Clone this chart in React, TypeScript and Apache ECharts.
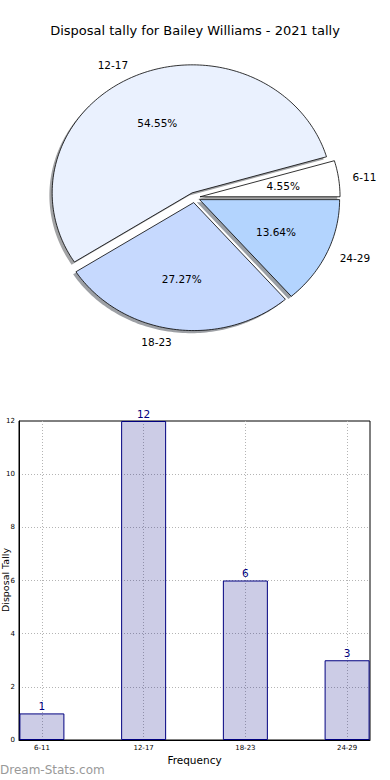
import React, { useEffect, useRef } from 'react';
import * as echarts from 'echarts';

const categories = ['6-11', '12-17', '18-23', '24-29'];
const tallies = [1, 12, 6, 3];
const titleText = 'Disposal tally for Bailey Williams - 2021 tally';
const xAxisTitle = 'Frequency';
const yAxisTitle = 'Disposal Tally';
const watermark = 'Dream-Stats.com';
const pieColors = ['#ffffff', '#eaf1fe', '#c6d9fe', '#b3d4fe'];

const FONT = '"DejaVu Sans", Verdana, sans-serif';

function shade(hex: string) {
  const r = parseInt(hex.slice(1, 3), 16);
  const g = parseInt(hex.slice(3, 5), 16);
  const b = parseInt(hex.slice(5, 7), 16);
  return `rgba(${Math.round(r * 0.3)},${Math.round(g * 0.3)},${Math.round(b * 0.3)},0.5)`;
}

export default function App() {
  const ref = useRef<HTMLDivElement>(null);
  useEffect(() => {
    document.body.style.margin = '0';
    const chart = echarts.init(ref.current!, null, { renderer: 'svg' });
    const total = tallies.reduce((a, b) => a + b, 0);
    const starts: number[] = [];
    let acc = 0;
    tallies.forEach((v) => {
      starts.push(acc);
      acc += v;
    });
    const CX = 194.5, CY = 197.5, RX = 140, RY = 128, EXPLODE = 0.04;

    const renderSlice = (params: any, api: any) => {
      const i = params.dataIndex;
      const v = api.value(1);
      const a0 = (starts[i] / total) * Math.PI * 2;
      const a1 = ((starts[i] + v) / total) * Math.PI * 2;
      const mid = (a0 + a1) / 2;
      const cx = CX + EXPLODE * RX * Math.cos(mid);
      const cy = CY - EXPLODE * RY * Math.sin(mid);
      const n = Math.max(8, Math.ceil(((a1 - a0) / (Math.PI * 2)) * 300));
      const pts: number[][] = [[cx, cy]];
      for (let k = 0; k <= n; k++) {
        const t = a0 + ((a1 - a0) * k) / n;
        pts.push([cx + RX * Math.cos(t), cy - RY * Math.sin(t)]);
      }
      const shadowPts = pts.map(([x, y]) => [x - 2.8, y + 2.6]);
      const pct = ((v / total) * 100).toFixed(2) + '%';
      const c = Math.cos(mid);
      const s = Math.sin(mid);
      return {
        type: 'group',
        children: [
          { type: 'polygon', shape: { points: shadowPts }, style: { fill: shade(pieColors[i]) }, z2: 0 },
          {
            type: 'polygon',
            shape: { points: pts },
            style: { fill: pieColors[i], stroke: '#000', lineWidth: 0.8 },
            z2: 10,
          },
          {
            type: 'text',
            x: cx + 0.6 * RX * c,
            y: cy - 0.6 * RY * s,
            style: {
              text: pct,
              fill: '#000',
              fontSize: 10.5,
              fontFamily: FONT,
              align: 'center',
              verticalAlign: 'middle',
            },
            z2: 20,
          },
          {
            type: 'text',
            x: cx + 1.1 * RX * c,
            y: cy - 1.1 * RY * s,
            style: {
              text: categories[i],
              fill: '#000',
              fontSize: 10.5,
              fontFamily: FONT,
              align: c < 0 ? 'right' : 'left',
              verticalAlign: 'middle',
            },
            z2: 20,
          },
        ],
      };
    };

    const gridLine = { type: [1, 2] as any, color: '#b4b4b4', width: 1 };

    chart.setOption({
      animation: false,
      backgroundColor: '#fff',
      title: {
        text: titleText,
        left: 'center',
        top: 19,
        textStyle: { fontSize: 13, fontWeight: 'normal', color: '#000', fontFamily: FONT },
      },
      grid: {
        left: 19,
        right: 20,
        top: 421,
        bottom: 40,
        show: true,
        borderColor: '#000',
        borderWidth: 1,
        backgroundColor: 'transparent',
      },
      xAxis: {
        type: 'value',
        min: -0.225,
        max: 3.225,
        splitNumber: 4,
        minInterval: 1,
        maxInterval: 1,
        axisLine: { show: true, onZero: false, lineStyle: { color: '#000', width: 1 } },
        axisTick: { show: false },
        axisLabel: {
          fontSize: 7,
          color: '#000',
          fontFamily: FONT,
          margin: 4,
          showMinLabel: false,
          showMaxLabel: false,
          formatter: (v: number) => {
            const r = Math.round(v);
            return Math.abs(v - r) < 1e-6 && r >= 0 && r < categories.length ? categories[r] : '';
          },
        },
        splitLine: { show: true, showMinLine: false, showMaxLine: false, lineStyle: gridLine },
      },
      yAxis: {
        type: 'value',
        min: 0,
        max: 12,
        interval: 2,
        axisLine: { show: true, onZero: false, lineStyle: { color: '#000', width: 1 } },
        axisTick: { show: false },
        axisLabel: { fontSize: 7, color: '#000', fontFamily: FONT, margin: 4 },
        splitLine: { show: true, showMinLine: false, showMaxLine: false, lineStyle: gridLine },
      },
      graphic: [
        {
          type: 'text',
          x: 194.5,
          y: 760,
          style: {
            text: xAxisTitle,
            fill: '#000',
            fontSize: 10.5,
            fontFamily: FONT,
            align: 'center',
            verticalAlign: 'middle',
          },
        },
        {
          type: 'text',
          x: 5.5,
          y: 580,
          rotation: Math.PI / 2,
          style: {
            text: yAxisTitle,
            fill: '#000',
            fontSize: 9.5,
            fontFamily: FONT,
            align: 'center',
            verticalAlign: 'middle',
          },
        },
        {
          type: 'text',
          x: 0,
          y: 770,
          style: {
            text: watermark,
            fill: '#999999',
            fontSize: 12,
            fontFamily: FONT,
            align: 'left',
            verticalAlign: 'middle',
          },
        },
      ],
      series: [
        {
          type: 'custom',
          coordinateSystem: 'none',
          renderItem: renderSlice,
          data: tallies.map((v, i) => [i, v]),
          silent: true,
        },
        {
          type: 'bar',
          data: tallies.map((v, i) => [i, v]),
          barWidth: 45,
          itemStyle: { color: 'rgba(0,0,128,0.2)', borderColor: '#000080', borderWidth: 1 },
          label: {
            show: true,
            position: 'top',
            distance: 2,
            color: '#000080',
            fontSize: 10.5,
            fontFamily: FONT,
          },
        },
      ],
    });
    return () => chart.dispose();
  }, []);
  return <div ref={ref} style={{ width: 390, height: 780 }} />;
}
